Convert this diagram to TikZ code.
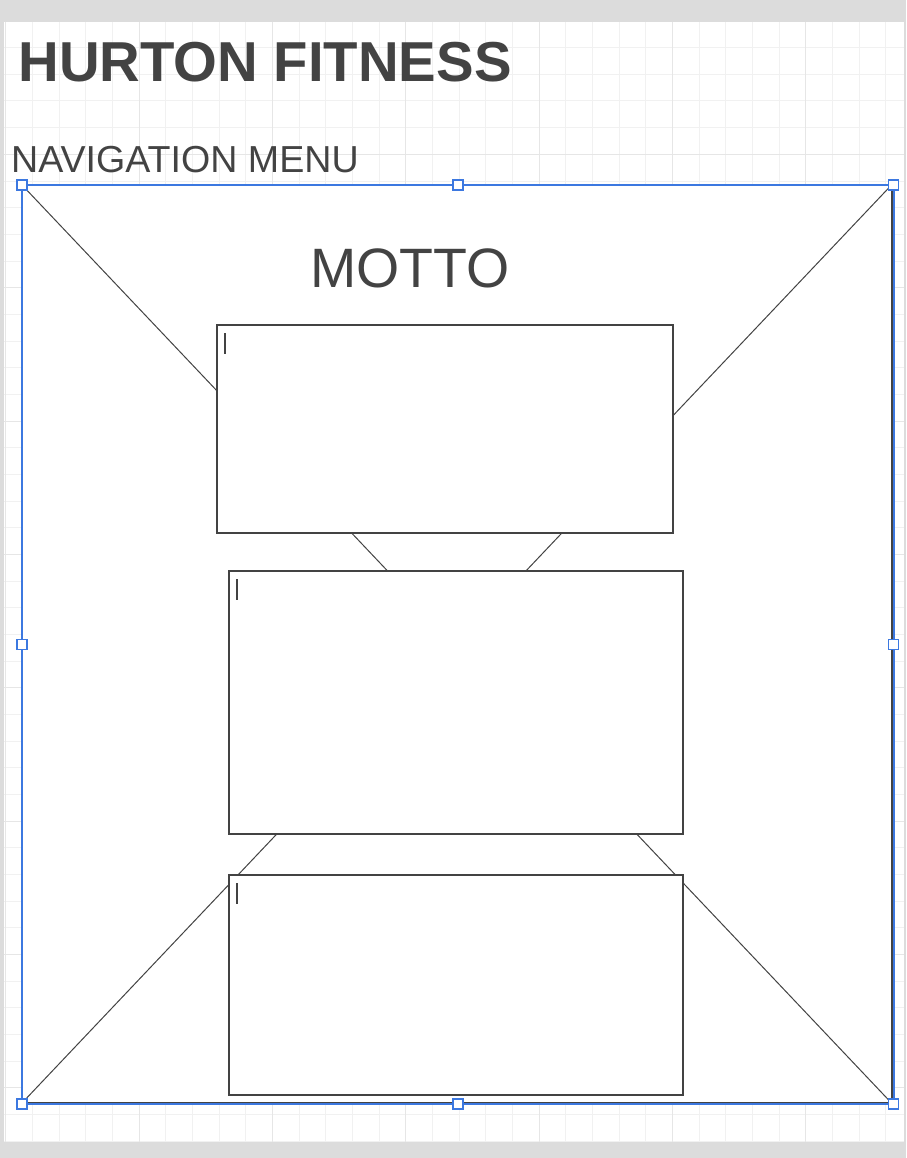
\documentclass[tikz,border=0pt]{standalone}
\usepackage{fontspec}
\setmainfont{Liberation Sans}
\definecolor{pagegray}{HTML}{DCDCDC}
\definecolor{gridminor}{HTML}{F1F1F1}
\definecolor{gridmajor}{HTML}{E6E6E6}
\definecolor{ink}{HTML}{434343}
\definecolor{selblue}{HTML}{3C78E0}
\tikzset{
  wire/.style={draw=ink, line width=1pt},
  boxstyle/.style={rectangle, draw=ink, fill=white, line width=2pt, inner sep=0pt, outer sep=0pt},
  handle/.style={rectangle, draw=selblue, fill=white, line width=1.6pt, minimum width=10pt, minimum height=10pt, inner sep=0pt},
  caret/.style={draw=ink, line width=1.5pt},
  label/.style={inner sep=0pt, outer sep=0pt, text=ink, anchor=base west}
}
\begin{document}
\begin{tikzpicture}[x=1pt,y=-1pt]
\useasboundingbox (0,0) rectangle (906,1158);
\fill[pagegray] (0,0) rectangle (906,1158);
\fill[white] (4,22) rectangle (904,1142);
\begin{scope}
\clip (4,22) rectangle (904,1142);
\foreach \k in {0,...,34} {
  \pgfmathsetmacro{\xx}{5.67+26.667*\k}
  \draw[gridminor, line width=1pt] (\xx,22) -- (\xx,1142);
}
\foreach \k in {0,...,42} {
  \pgfmathsetmacro{\yy}{21+26.667*\k}
  \draw[gridminor, line width=1pt] (4,\yy) -- (904,\yy);
}
\foreach \k in {0,...,6} {
  \pgfmathsetmacro{\xx}{5.67+133.333*\k}
  \draw[gridmajor, line width=1pt] (\xx,22) -- (\xx,1142);
}
\foreach \k in {0,...,8} {
  \pgfmathsetmacro{\yy}{21+133.333*\k}
  \draw[gridmajor, line width=1pt] (4,\yy) -- (904,\yy);
}
\end{scope}
% frame
\node[boxstyle, minimum width=869.5pt, minimum height=918pt] (frame) at (456.75,644) {};
\draw[wire] (frame.north west) -- (frame.south east);
\draw[wire] (frame.north east) -- (frame.south west);
% boxes
\node[boxstyle, minimum width=456pt, minimum height=208pt] (box1) at (445,429) {};
\node[boxstyle, minimum width=454pt, minimum height=263pt] (box2) at (456,702.5) {};
\node[boxstyle, minimum width=454pt, minimum height=220pt] (box3) at (456,985) {};
% carets
\coordinate (c1a) at (225,333); \coordinate (c1b) at (225,354);
\coordinate (c2a) at (237,579); \coordinate (c2b) at (237,600);
\coordinate (c3a) at (237,883); \coordinate (c3b) at (237,904);
\draw[caret] (c1a) -- (c1b);
\draw[caret] (c2a) -- (c2b);
\draw[caret] (c3a) -- (c3b);
% selection
\draw[selblue, line width=2pt] (22,185) rectangle (893.5,1104);
\foreach \p/\q [count=\i] in {22/185, 457.75/185, 893.5/185, 22/644.5, 893.5/644.5, 22/1104, 457.75/1104, 893.5/1104} {
  \node[handle] (h\i) at (\p,\q) {};
}
% texts
\node[label, font=\bfseries\fontsize{56.3}{60}\selectfont] (title) at (18.5,82) {HURTON FITNESS};
\node[label, font=\fontsize{37.6}{40}\selectfont] (nav) at (11.2,172.5) {NAVIGATION MENU};
\node[label, font=\fontsize{55.5}{58}\selectfont] (motto) at (310.5,287.5) {MOTTO};
\end{tikzpicture}
\end{document}
